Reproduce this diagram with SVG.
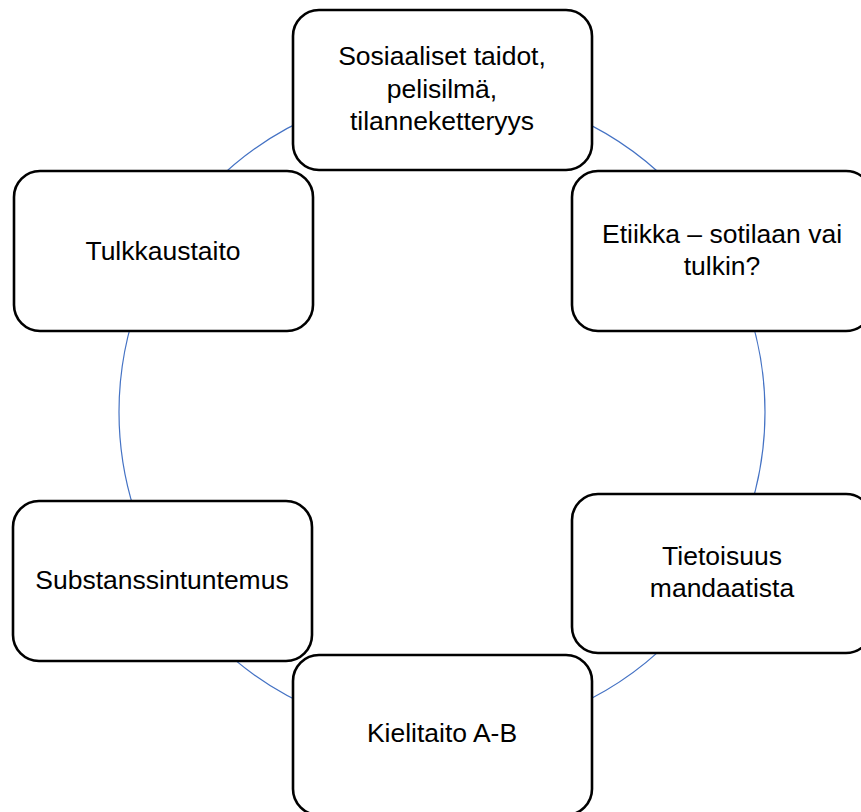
<svg xmlns="http://www.w3.org/2000/svg" width="861" height="812" viewBox="0 0 861 812">
<style>
.box{fill:#fff;stroke:#000;stroke-width:2.6}
.lbl{font-family:"Liberation Sans",Arial,sans-serif;font-size:26.5px;fill:#000;text-anchor:middle}
.ring{fill:none;stroke:#4472C4;stroke-width:1.2}
</style>
<rect width="861" height="812" fill="#fff"/>
<g id="connectors">
<circle class="ring" cx="442" cy="412" r="323"/>
</g>
<g id="n1">
<rect class="box" x="293" y="10" width="299" height="160" rx="26"/>
<text class="lbl" x="442" y="65">Sosiaaliset taidot,</text>
<text class="lbl" x="442" y="97.5">pelisilmä,</text>
<text class="lbl" x="442" y="130">tilanneketteryys</text>
</g>
<g id="n2">
<rect class="box" x="572" y="171" width="300" height="160" rx="26"/>
<text class="lbl" x="722" y="243">Etiikka – sotilaan vai</text>
<text class="lbl" x="722" y="275">tulkin?</text>
</g>
<g id="n3">
<rect class="box" x="572" y="494" width="300" height="159" rx="26"/>
<text class="lbl" x="722" y="565">Tietoisuus</text>
<text class="lbl" x="722" y="597">mandaatista</text>
</g>
<g id="n4">
<rect class="box" x="293" y="655" width="299" height="160" rx="26"/>
<text class="lbl" x="442" y="742">Kielitaito A-B</text>
</g>
<g id="n5">
<rect class="box" x="13" y="501" width="299" height="160" rx="26"/>
<text class="lbl" x="162" y="589">Substanssintuntemus</text>
</g>
<g id="n6">
<rect class="box" x="14" y="171" width="299" height="160" rx="26"/>
<text class="lbl" x="163" y="260">Tulkkaustaito</text>
</g>
</svg>
